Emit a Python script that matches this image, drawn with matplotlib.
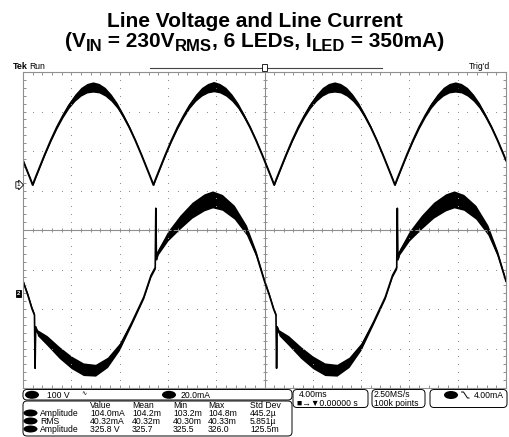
import numpy as np
import matplotlib
matplotlib.use('Agg')
import matplotlib.pyplot as plt
from matplotlib.patches import FancyBboxPatch, Ellipse, Rectangle
from matplotlib.transforms import blended_transform_factory

# scope settings
MS_PER_DIV = 4.0
V_PER_DIV = 100.0
MA_PER_DIV = 20.0
CH1_POS = 1.14    # ground marker of ch1, divisions above centre
CH2_POS = -1.6    # ground marker of ch2

# ch1 - rectified line voltage (ms, V) and ripple half width (V)
volt_t = [-20.0, -19.7, -19.4, -19.2,
          -19.0, -18.7, -18.2, -17.7, -17.2, -16.7, -16.2, -15.7, -15.2, -14.7, -14.2,
          -13.7, -13.2, -12.7, -12.2, -11.7, -11.2, -10.7, -10.2, -9.7, -9.4, -9.2,
          -9.0, -8.7, -8.2, -7.7, -7.2, -6.7, -6.2, -5.7, -5.2, -4.7, -4.2,
          -3.7, -3.2, -2.7, -2.2, -1.7, -1.2, -0.7, -0.2, 0.3, 0.6, 0.8,
          1.0, 1.3, 1.8, 2.3, 2.8, 3.3, 3.8, 4.3, 4.8, 5.3, 5.8,
          6.3, 6.8, 7.3, 7.8, 8.3, 8.8, 9.3, 9.8, 10.3, 10.6, 10.8,
          11.0, 11.3, 11.8, 12.3, 12.8, 13.3, 13.8, 14.3, 14.8, 15.3, 15.8,
          16.3, 16.8, 17.3, 17.8, 18.3, 18.8, 19.3, 19.8, 20.0]
volt_v = [62, 39, 16, 0,
          16, 39, 77, 113, 146, 175, 201, 221, 236, 245, 248,
          245, 236, 221, 201, 175, 146, 113, 77, 39, 16, 0,
          16, 39, 77, 113, 146, 175, 201, 221, 236, 245, 249,
          245, 236, 221, 201, 175, 146, 113, 77, 39, 16, 0,
          16, 39, 77, 113, 146, 175, 201, 221, 236, 245, 248,
          245, 236, 221, 201, 175, 146, 113, 77, 39, 16, 0,
          16, 39, 77, 113, 146, 175, 201, 221, 236, 245, 248,
          245, 236, 221, 201, 175, 146, 113, 77, 62]
volt_rip = [2, 2, 2, 2,
            2, 2, 2, 3, 4, 5, 7, 9, 11, 12, 13,
            12, 11, 9, 7, 5, 4, 3, 2, 2, 2, 2,
            2, 2, 2, 3, 4, 5, 7, 9, 11, 12, 13,
            12, 11, 9, 7, 5, 4, 3, 2, 2, 2, 2,
            2, 2, 2, 3, 4, 5, 7, 9, 11, 12, 13,
            12, 11, 9, 7, 5, 4, 3, 2, 2, 2, 2,
            2, 2, 2, 3, 4, 5, 7, 9, 11, 12, 13,
            12, 11, 9, 7, 5, 4, 3, 2, 2]

# ch2 - line current (ms, mA) and ripple half width (mA)
curr_t = [-20.0, -19.6, -19.25, -19.05, -19.0, -18.95, -18.8, -18.0, -17.0, -16.0,
          -15.0, -14.0, -13.0, -12.0, -11.0, -10.0, -9.4, -9.05, -9.0, -8.95,
          -8.8, -8.0, -7.0, -6.0, -5.0, -4.3, -3.5, -2.5, -1.5, -0.7,
          0.0, 0.4, 0.75, 0.95, 1.0, 1.05, 1.2, 2.0, 3.0, 4.0,
          5.0, 6.0, 7.0, 8.0, 9.0, 10.0, 10.6, 10.95, 11.0, 11.05,
          11.2, 12.0, 13.0, 14.0, 15.0, 15.7, 16.5, 17.5, 18.5, 19.3, 20.0]
curr_i = [6, -1, -8, -11, -38, -17, -20, -24, -30, -35,
          -38.5, -39, -35, -27, -15, -2, 9, 13, 43, 17,
          21, 29, 36, 42, 46, 47.5, 46, 41, 32, 20,
          6, -1, -8, -11, -38, -17, -20, -24, -30, -35,
          -38.5, -39, -35, -27, -15, -2, 9, 13, 43, 17,
          21, 29, 36, 42, 46, 47.5, 46, 41, 32, 20, 6]
curr_rip = [1.0, 1.0, 1.0, 0.8, 0.3, 0.5, 1.5, 2.5, 3.0, 3.2,
            3.2, 3.0, 2.6, 1.8, 1.0, 0.8, 0.8, 0.8, 0.3, 0.5,
            1.5, 2.5, 3.5, 4.0, 4.3, 4.3, 4.0, 3.5, 2.5, 1.5,
            1.0, 1.0, 1.0, 0.8, 0.3, 0.5, 1.5, 2.5, 3.0, 3.2,
            3.2, 3.0, 2.6, 1.8, 1.0, 0.8, 0.8, 0.8, 0.3, 0.5,
            1.5, 2.5, 3.5, 4.0, 4.3, 4.3, 4.0, 3.5, 2.5, 1.5, 1.0]

# title pieces: (text, is_subscript)
title1 = 'Line Voltage and Line Current'
title2 = [('(V', False), ('IN', True), (' = 230V', False), ('RMS', True),
          (', 6 LEDs, I', False), ('LED', True), (' = 350mA)', False)]

# readout texts
meas_cols = ['Value', 'Mean', 'Min', 'Max', 'Std Dev']
meas_rows = [['Amplitude', '104.0mA', '104.2m', '103.2m', '104.8m', '445.2\u00b5'],
             ['RMS', '40.32mA', '40.32m', '40.30m', '40.33m', '5.851\u00b5'],
             ['Amplitude', '325.8 V', '325.7', '325.5', '326.0', '125.5m']]

GRAY = '#8f8f8f'
SCOPE = dict(family='Liberation Sans', fontsize=6.2, color='black')
TFONT = dict(family='Liberation Sans', fontweight='bold', color='black')


def main():
   fig = plt.figure(figsize=(5.09, 4.37), dpi=100)
   rend = fig.canvas.get_renderer()

   # overlay in pixel units for the labels round the screen
   ov = fig.add_axes([0, 0, 1, 1])
   ov.set_xlim(0, 509)
   ov.set_ylim(437, 0)
   ov.axis('off')

   ov.text(254.5, 27, title1, ha='center', va='baseline', fontsize=15, **TFONT)

   # second title line laid out piece by piece so the subscripts keep their size
   arts = []
   for s, sub in title2:
      t = ov.text(0, 0, s, ha='left', va='baseline', fontsize=12 if sub else 15, **TFONT)
      arts.append((t, sub))
   widths = [t.get_window_extent(rend).width for t, _ in arts]
   x = 254.5 - sum(widths) / 2
   for (t, sub), w in zip(arts, widths):
      t.set_position((x, 51 if sub else 47))
      x += w

   ov.text(13, 66.5, 'Tek', ha='left', va='center', family='Liberation Sans', fontsize=6.4, fontweight='bold')
   ov.text(29, 66.5, 'Run', ha='left', va='center', **SCOPE)
   ov.text(469, 66.5, "Trig'd", ha='left', va='center', **SCOPE)
   ov.plot([150, 382], [67.5, 67.5], color='#444444', lw=0.8)
   ov.add_patch(Rectangle((262.5, 63.5), 5, 7, fc='white', ec='black', lw=0.6, zorder=3))
   ov.add_patch(Rectangle((262.5, 73.5), 5, 7, fc='black', ec='black', lw=0.6, zorder=5))

   # readout boxes
   def box(x0, y0, w, h):
      ov.add_patch(FancyBboxPatch((x0, y0), w, h, boxstyle='round,pad=0,rounding_size=4',
                                  fc='white', ec='black', lw=0.7))

   box(23, 389.5, 269, 10.5)
   box(23, 401, 269, 35)
   box(293, 389.5, 75, 18)
   box(372, 389.5, 53, 18)
   box(430, 389.5, 77, 18)

   ov.add_patch(Ellipse((32, 394.8), 14, 8, fc='black'))
   ov.text(47, 395, '100 V', ha='left', va='center', **SCOPE)
   ov.text(81, 394, '\u223f', ha='left', va='center', family='DejaVu Sans', fontsize=4.5)
   ov.add_patch(Ellipse((169, 394.8), 14, 8, fc='black'))
   ov.text(181, 395, '20.0mA', ha='left', va='center', **SCOPE)

   col_x = [90, 132, 173, 208, 250]
   for x, c in zip(col_x, meas_cols):
      ov.text(x, 405, c, ha='left', va='center', **SCOPE)
   for k, row in enumerate(meas_rows):
      y = 413 + 8 * k
      ov.add_patch(Ellipse((30.5, y), 14, 7, fc='black'))
      ov.text(40, y, row[0], ha='left', va='center', **SCOPE)
      for x, s in zip(col_x, row[1:]):
         ov.text(x, y, s, ha='left', va='center', **SCOPE)

   ov.text(299, 394.5, '4.00ms', ha='left', va='center', **SCOPE)
   ov.text(297, 403, '\u25a0\u2192\u25bc0.00000 s', ha='left', va='center',
           family=['Liberation Sans', 'DejaVu Sans'], fontsize=6.2)
   ov.text(374, 394.5, '2.50MS/s', ha='left', va='center', **SCOPE)
   ov.text(374, 403, '100k points', ha='left', va='center', **SCOPE)
   ov.add_patch(Ellipse((451, 395), 14, 8, fc='black'))
   ov.plot([461.5, 463.5, 467.5, 469], [392, 392, 398, 398], color='black', lw=0.7)
   ov.text(474, 395, '4.00mA', ha='left', va='center', **SCOPE)

   # the scope screen
   ax = fig.add_axes([23 / 509, 1 - 388 / 437, 483 / 509, 316 / 437])
   ax.set_xlim(-5 * MS_PER_DIV, 5 * MS_PER_DIV)
   ax.set_ylim(-4, 4)

   xs = np.linspace(-20, 20, 51)
   ys = np.linspace(-4, 4, 41)
   for k in range(-4, 5):
      if k == 0:
         continue
      ax.plot(np.full(ys.size, k * MS_PER_DIV), ys, ls='none', marker='s', ms=0.7, mew=0, color=GRAY)
   for k in range(-3, 4):
      if k == 0:
         continue
      ax.plot(xs, np.full(xs.size, k), ls='none', marker='s', ms=0.7, mew=0, color=GRAY)
   ax.axhline(0, color=GRAY, lw=0.8)
   ax.axvline(0, color=GRAY, lw=0.8)
   ax.plot(xs, np.zeros(xs.size), ls='none', marker='|', ms=3.5, mew=0.7, color=GRAY)
   ax.plot(np.zeros(ys.size), ys, ls='none', marker='_', ms=3.5, mew=0.7, color=GRAY)

   ax.set_xticks(xs)
   ax.set_yticks(ys)
   ax.tick_params(direction='in', length=2.5, width=0.7, color=GRAY, top=True, right=True,
                  labelbottom=False, labelleft=False)
   for sp in ax.spines.values():
      sp.set_color(GRAY)
      sp.set_linewidth(0.8)

   # traces
   vt = np.array(volt_t)
   vy = np.array(volt_v) / V_PER_DIV + CH1_POS
   vr = np.array(volt_rip) / V_PER_DIV
   ax.fill_between(vt, vy - vr, vy + vr, color='black', lw=0)
   ax.plot(vt, vy, color='black', lw=1.4)

   ct = np.array(curr_t)
   cy = np.array(curr_i) / MA_PER_DIV + CH2_POS
   cr = np.array(curr_rip) / MA_PER_DIV
   ax.fill_between(ct, cy - cr, cy + cr, color='black', lw=0)
   ax.plot(ct, cy, color='black', lw=1.2)

   # channel ground markers
   blend = blended_transform_factory(ax.transAxes, ax.transData)
   ax.text(-0.006, CH1_POS, '1', transform=blend, ha='right', va='center', fontsize=4.5,
           family='Liberation Sans', clip_on=False,
           bbox=dict(boxstyle='rarrow,pad=0.12', fc='white', ec='black', lw=0.6))
   ax.text(-0.006, CH2_POS, '2', transform=blend, ha='right', va='center', fontsize=4.5,
           family='Liberation Sans', fontweight='bold', color='white', clip_on=False,
           bbox=dict(boxstyle='square,pad=0.15', fc='black', ec='black', lw=0.6))

   fig.savefig('out.png', dpi=100)


if __name__ == '__main__':
   main()
